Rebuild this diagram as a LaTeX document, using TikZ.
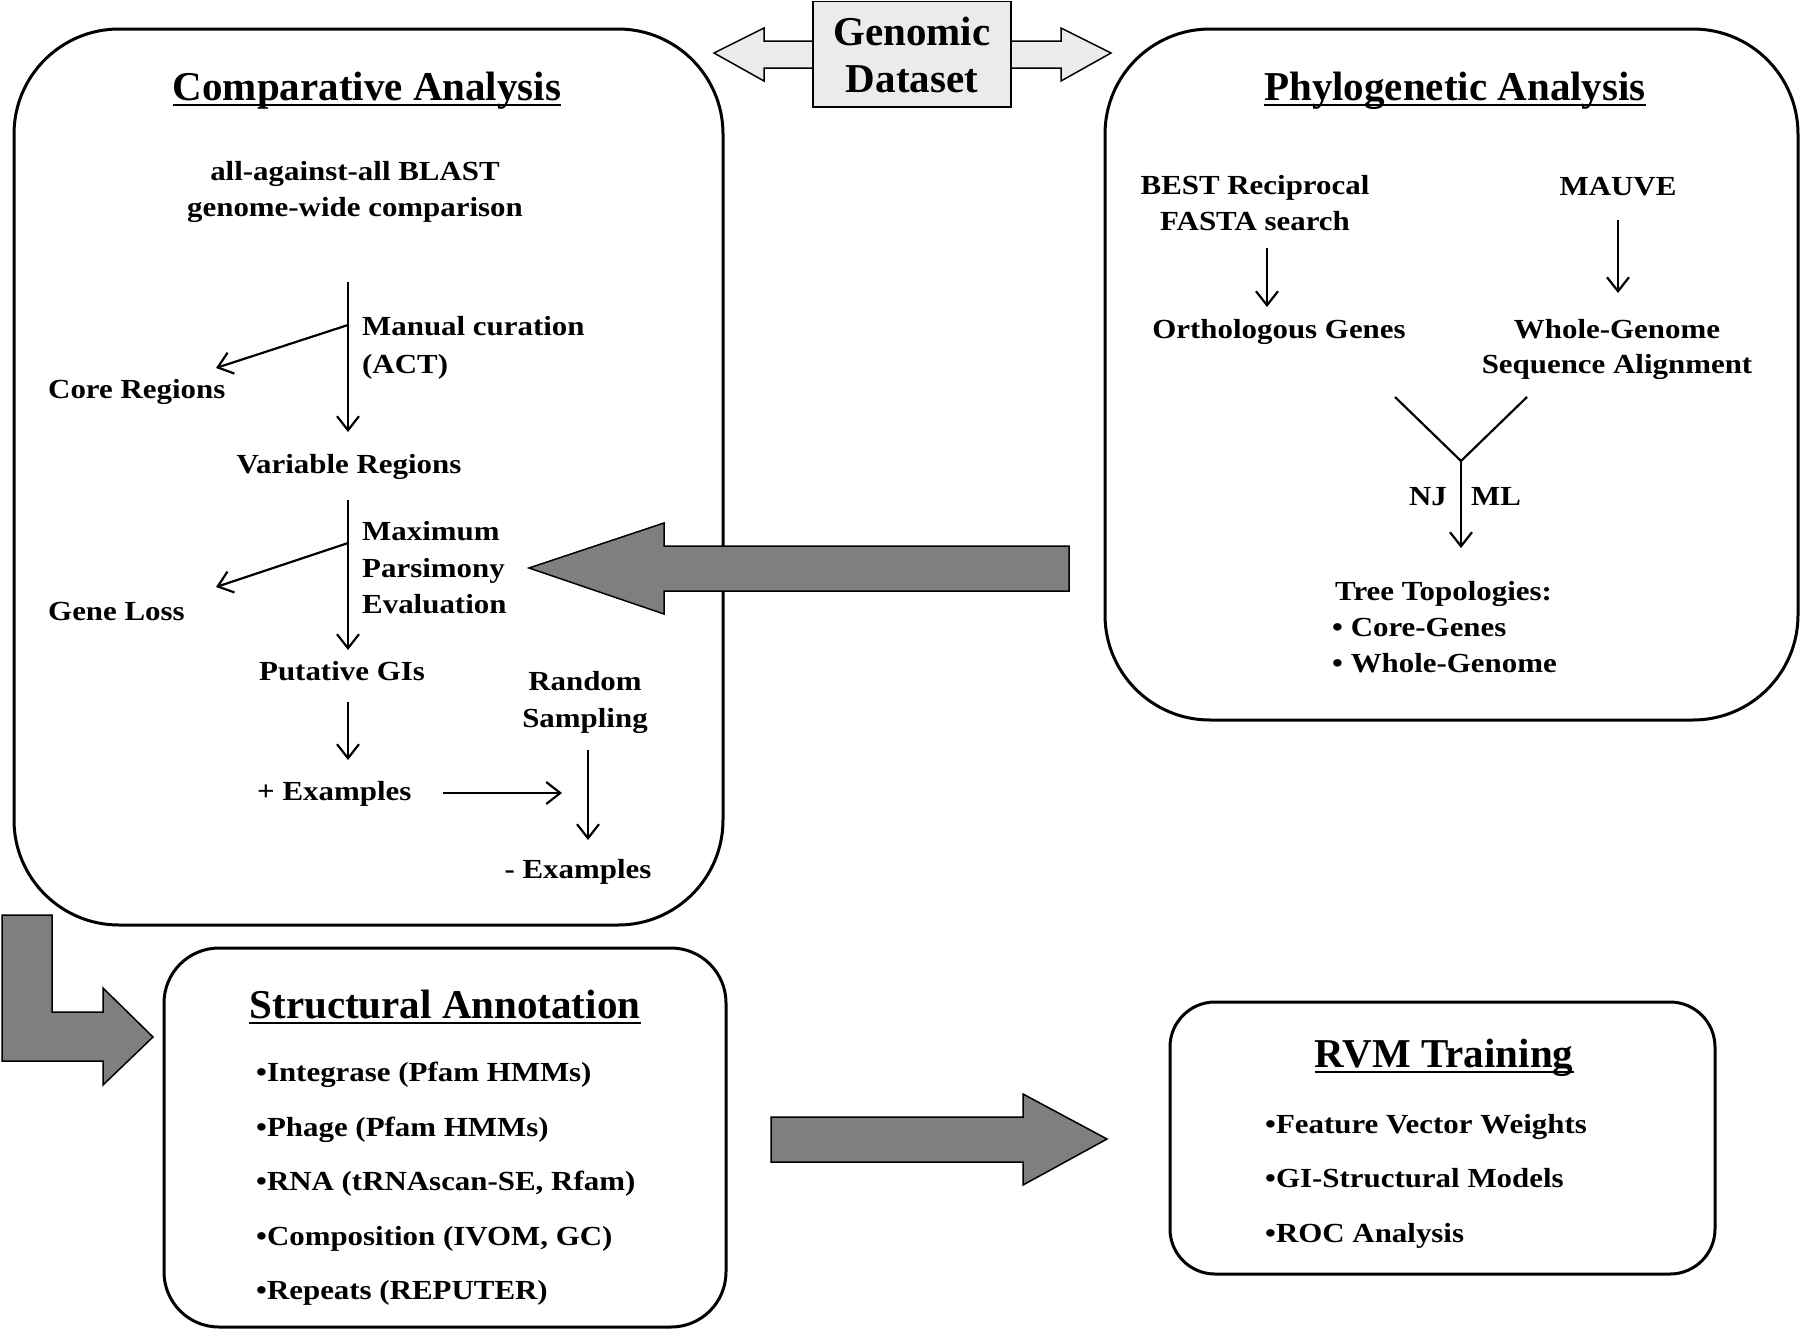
\documentclass[tikz,border=0pt]{standalone}
\usepackage{fontspec}
\setmainfont{Liberation Serif}
\newfontfamily\bodyfam{Liberation Serif}[FakeStretch=1.12]
\usetikzlibrary{arrows.meta}
\definecolor{darkfill}{HTML}{7F7F7F}
\definecolor{lightfill}{HTML}{EBEBEB}
\begin{document}
\begin{tikzpicture}[x=1pt,y=-1pt,
  box/.style={draw=black, line width=3pt},
  ttl/.style={font=\fontsize{41}{48}\selectfont\bfseries, inner sep=0pt, anchor=base},
  txt/.style={font=\bodyfam\fontsize{27.6}{36}\selectfont\bfseries, inner sep=0pt, anchor=base},
  txtl/.style={txt, anchor=base west},
  arr/.style={line width=2.2pt, -{Straight Barb[length=14pt,width=22pt]}},
  ln/.style={line width=2.2pt},
  bigarrow/.style={fill=darkfill, draw=black, line width=1.5pt, line join=miter},
  lightshape/.style={fill=lightfill, draw=black, line width=1.5pt, line join=miter},
  uline/.style={line width=2.2pt}]
\useasboundingbox (0,0) rectangle (1800,1331);
\fill[white] (0,0) rectangle (1800,1331);

% ---------- boxes ----------
\draw[box, rounded corners=105pt] (14,29) rectangle (723,925);
\draw[box, rounded corners=105pt] (1105,29) rectangle (1798,720);
\draw[box, rounded corners=55pt] (164,948) rectangle (726,1327);
\draw[box, rounded corners=45pt] (1170,1002) rectangle (1715,1274);

% ---------- Genomic Dataset ----------
\draw[lightshape] (714,53) -- (764,28) -- (764,41) -- (1061,41) -- (1061,28) -- (1111,53)
  -- (1061,81) -- (1061,68) -- (764,68) -- (764,81) -- cycle;
\draw[lightshape] (813,1.5) rectangle (1011,107);
\node[ttl] (gen1) at (912,45) {Genomic};
\node[ttl] (gen2) at (912,92) {Dataset};

% ---------- big arrows ----------
\draw[bigarrow] (529,568) -- (664,523) -- (664,546) -- (1069,546) -- (1069,591) -- (664,591) -- (664,614) -- cycle;
\draw[bigarrow] (771,1117) -- (1023,1117) -- (1023,1094) -- (1107,1139) -- (1023,1185) -- (1023,1162) -- (771,1162) -- cycle;
\draw[bigarrow] (2,915) -- (52,915) -- (52,1012) -- (103,1012) -- (103,988) -- (153,1037) -- (103,1085) -- (103,1061) -- (2,1061) -- cycle;

% ---------- Comparative Analysis ----------
\node[ttl] (ca) at (367,100) {Comparative Analysis};
\draw[uline] ([yshift=-5pt]ca.base west) -- ([yshift=-5pt]ca.base east);
\node[txt] (blast1) at (355,180) {all-against-all BLAST};
\node[txt] (blast2) at (355,216) {genome-wide comparison};
\node[txtl] (manual) at (362,335) {Manual curation};
\node[txtl] (act) at (362,373) {(ACT)};
\node[txtl] (core) at (48,398) {Core Regions};
\node[txt] (variable) at (349,473) {Variable Regions};
\node[txtl] (maxi) at (362,540) {Maximum};
\node[txtl] (pars) at (362,577) {Parsimony};
\node[txtl] (eval) at (362,613) {Evaluation};
\node[txtl] (geneloss) at (48,620) {Gene Loss};
\node[txt] (putative) at (342,680) {Putative GIs};
\node[txtl] (plusex) at (257,800) {+ Examples};
\node[txt] (random) at (585,690) {Random};
\node[txt] (sampling) at (585,727) {Sampling};
\node[txt] (minusex) at (578,878) {- Examples};

\coordinate (c1a) at (348,282); \coordinate (c1b) at (348,432);
\coordinate (c1m) at (348,325); \coordinate (c1c) at (216,368);
\coordinate (c2a) at (348,500); \coordinate (c2b) at (348,650);
\coordinate (c2m) at (348,543); \coordinate (c2c) at (216,587);
\coordinate (c3a) at (348,702); \coordinate (c3b) at (348,760);
\coordinate (c4a) at (443,793); \coordinate (c4b) at (562,793);
\coordinate (c5a) at (588,750); \coordinate (c5b) at (588,840);
\draw[arr] (c1a) -- (c1b);
\draw[arr] (c1m) -- (c1c);
\draw[arr] (c2a) -- (c2b);
\draw[arr] (c2m) -- (c2c);
\draw[arr] (c3a) -- (c3b);
\draw[arr] (c4a) -- (c4b);
\draw[arr] (c5a) -- (c5b);

% ---------- Phylogenetic Analysis ----------
\node[ttl] (pa) at (1455,100) {Phylogenetic Analysis};
\draw[uline] ([yshift=-5pt]pa.base west) -- ([yshift=-5pt]pa.base east);
\node[txt] (best1) at (1255,194) {BEST Reciprocal};
\node[txt] (best2) at (1255,230) {FASTA search};
\node[txt] (ortho) at (1279,338) {Orthologous Genes};
\node[txt] (mauve) at (1618,195) {MAUVE};
\node[txt] (whole1) at (1617,338) {Whole-Genome};
\node[txt] (whole2) at (1617,373) {Sequence Alignment};
\node[txt] (nj) at (1428,505) {NJ};
\node[txt] (ml) at (1496,505) {ML};
\node[txtl] (tree) at (1335,600) {Tree Topologies:};
\node[txtl] (tcore) at (1332,636) {• Core-Genes};
\node[txtl] (twhole) at (1332,672) {• Whole-Genome};

\coordinate (p1a) at (1267,248); \coordinate (p1b) at (1267,307);
\coordinate (p2a) at (1618,220); \coordinate (p2b) at (1618,293);
\coordinate (yl) at (1395,397); \coordinate (yr) at (1527,397);
\coordinate (yj) at (1461,461); \coordinate (ye) at (1461,548);
\draw[arr] (p1a) -- (p1b);
\draw[arr] (p2a) -- (p2b);
\draw[ln] (yl) -- (yj) -- (yr);
\draw[arr] (yj) -- (ye);

% ---------- Structural Annotation ----------
\node[ttl] (sa) at (445,1018) {Structural Annotation};
\draw[uline] ([yshift=-5pt]sa.base west) -- ([yshift=-5pt]sa.base east);
\node[txtl] (s1) at (256,1081) {•Integrase (Pfam HMMs)};
\node[txtl] (s2) at (256,1136) {•Phage (Pfam HMMs)};
\node[txtl] (s3) at (256,1190) {•RNA (tRNAscan-SE, Rfam)};
\node[txtl] (s4) at (256,1245) {•Composition (IVOM, GC)};
\node[txtl] (s5) at (256,1299) {•Repeats (REPUTER)};

% ---------- RVM Training ----------
\node[ttl] (rvm) at (1444,1067) {RVM Training};
\draw[uline] ([yshift=-5pt]rvm.base west) -- ([yshift=-5pt]rvm.base east);
\node[txtl] (r1) at (1265,1133) {•Feature Vector Weights};
\node[txtl] (r2) at (1265,1187) {•GI-Structural Models};
\node[txtl] (r3) at (1265,1242) {•ROC Analysis};
\end{tikzpicture}
\end{document}
